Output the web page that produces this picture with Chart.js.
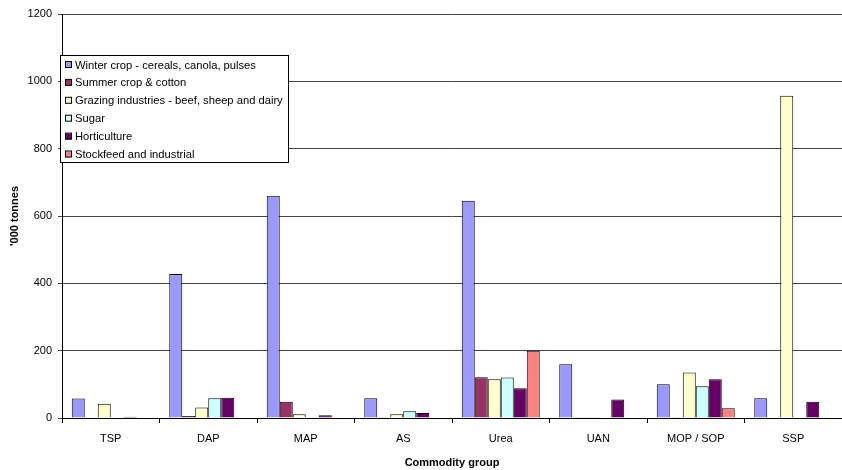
<!DOCTYPE html>
<html>
<head>
<meta charset="utf-8">
<script src="https://cdn.jsdelivr.net/npm/chart.js@4.4.1/dist/chart.umd.min.js"></script>
<style>
  html, body { margin: 0; padding: 0; background: #fff; }
  #wrap { width: 842px; height: 470px; position: relative; }
</style>
</head>
<body>
<div id="wrap"><canvas id="myChart"></canvas></div>
<script>
// categories and series ('000 tonnes)
const groups = ['TSP', 'DAP', 'MAP', 'AS', 'Urea', 'UAN', 'MOP / SOP', 'SSP'];
const winterCrop = [58, 428, 660, 59, 645, 160, 100, 59];
const summerCrop = [0, 6, 48, 2, 121, 2, 2, 0];
const grazing = [42, 31, 11, 11, 115, 2, 135, 957];
const sugar = [0, 59, 0, 20, 120, 0, 94, 0];
const horticulture = [4, 60, 8, 15, 88, 55, 115, 48];
const stockfeed = [0, 0, 0, 0, 200, 0, 29, 0];
const yTicks = [0, 200, 400, 600, 800, 1000, 1200];

Chart.defaults.font.family = '"Liberation Sans", Arial, sans-serif';
Chart.defaults.font.size = 11;
Chart.defaults.color = '#000';

// legend drawn as a boxed panel over the plot, like the original
const boxLegend = {
  id: 'boxLegend',
  afterDraw(chart) {
    const c = chart.ctx;
    const x0 = 60, y0 = 55, w = 228, h = 107, rowH = 17.9;
    c.save();
    c.fillStyle = '#fff';
    c.fillRect(x0, y0, w, h);
    c.strokeStyle = '#000';
    c.lineWidth = 1;
    c.strokeRect(x0 + 0.5, y0 + 0.5, w, h);
    c.font = '11.2px "Liberation Sans", Arial, sans-serif';
    c.textBaseline = 'middle';
    chart.data.datasets.forEach((ds, i) => {
      const cy = y0 + 10 + i * rowH;
      c.fillStyle = ds.backgroundColor;
      c.fillRect(x0 + 5, cy - 3, 6, 6);
      c.strokeStyle = '#000';
      c.strokeRect(x0 + 5.5, cy - 3.5, 6, 6);
      c.fillStyle = '#000';
      c.fillText(ds.label, x0 + 15, cy + 0.5);
    });
    c.restore();
  }
};

function bar(label, data, color) {
  return {
    label: label,
    data: data,
    backgroundColor: color,
    borderColor: '#000',
    borderWidth: 1,
    borderSkipped: 'bottom',
    categoryPercentage: 0.8,
    barPercentage: 1.0
  };
}

const ctx = document.getElementById('myChart').getContext('2d');
const myChart = new Chart(ctx, {
  type: 'bar',
  data: {
    labels: groups,
    datasets: [
      bar('Winter crop - cereals, canola, pulses', winterCrop, '#9999FF'),
      bar('Summer crop & cotton', summerCrop, '#993366'),
      bar('Grazing industries - beef, sheep and dairy', grazing, '#FFFFCC'),
      bar('Sugar', sugar, '#CCFFFF'),
      bar('Horticulture', horticulture, '#660066'),
      bar('Stockfeed and industrial', stockfeed, '#FF8080')
    ]
  },
  options: {
    responsive: true,
    maintainAspectRatio: false,
    animation: false,
    layout: { padding: { top: 14, right: 0, left: 0, bottom: 0 } },
    plugins: {
      legend: { display: false },
      tooltip: { enabled: false }
    },
    scales: {
      x: {
        grid: {
          offset: true,
          drawOnChartArea: false,
          drawTicks: true,
          tickLength: 5,
          color: '#000'
        },
        border: { color: '#000', width: 1 },
        ticks: { padding: 9, font: { size: 11 } },
        title: {
          display: true,
          text: 'Commodity group',
          font: { size: 11, weight: 'bold' },
          padding: { top: 4, bottom: 0 }
        },
        afterFit(scale) { scale.height = 52; }
      },
      y: {
        min: 0,
        max: 1200,
        afterBuildTicks(scale) { scale.ticks = yTicks.map(v => ({ value: v })); },
        grid: {
          color: '#444',
          tickLength: 4,
          drawTicks: true
        },
        border: { color: '#000', width: 1 },
        ticks: {
          padding: 6,
          font: { size: 11 },
          callback: (v) => String(v)
        },
        title: {
          display: true,
          text: "'000 tonnes",
          font: { size: 11, weight: 'bold' },
          padding: { top: 8, bottom: 0 }
        },
        afterFit(scale) { scale.width = 62; }
      }
    }
  },
  plugins: [boxLegend]
});
</script>
</body>
</html>
